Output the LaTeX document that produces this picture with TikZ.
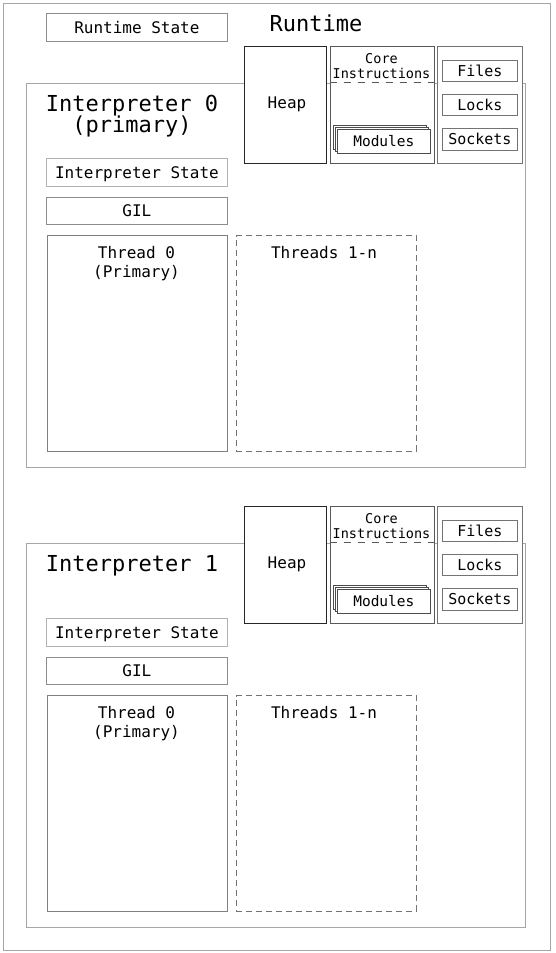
\documentclass[tikz,border=0pt]{standalone}
\usepackage{fontspec}
\setmainfont{DejaVu Sans Mono}
\begin{document}
\begin{tikzpicture}[x=1pt,y=-1pt,
  frame/.style={draw=black!35,line width=0.8pt,fill=white},
  rbox/.style={draw=black!75,line width=0.8pt,fill=white,anchor=north west,inner sep=0pt},
  sbox/.style={draw=black!45,line width=0.8pt,fill=white,anchor=north west,inner sep=0pt,
     font=\fontsize{16}{19}\selectfont,text height=11.7pt,text depth=0pt},
  resbox/.style={draw=black!55,line width=0.8pt,fill=white,anchor=north west,inner sep=0pt,
     minimum width=75pt,minimum height=21.5pt,
     font=\fontsize{15}{18}\selectfont,text height=11pt,text depth=0pt},
  modbox/.style={draw=black!70,line width=0.7pt,fill=white,anchor=north west,inner sep=0pt,
     minimum width=93pt,minimum height=23.5pt},
  dashbox/.style={draw=black!55,line width=0.8pt,dash pattern=on 6pt off 4pt,anchor=north west,inner sep=0pt},
  title/.style={font=\fontsize{22}{27}\selectfont,anchor=base},
  lbl/.style={font=\fontsize{16}{19}\selectfont,anchor=base},
  small/.style={font=\fontsize{13.5}{16}\selectfont,anchor=base}
]
\useasboundingbox (0,0) rectangle (556,953);
% outer frame
\node[draw=black!35,line width=0.8pt,anchor=north west,inner sep=0pt,minimum width=547pt,minimum height=947pt] (outer) at (3,3) {};
% runtime state and title
\node[sbox,draw=black!45,minimum width=181pt,minimum height=28pt] (rstate) at (46,13) {Runtime State};
\node[title] (rtitle) at (316,31) {Runtime};

\foreach \dy/\i in {0/0,460/1} {
  % interpreter box
  \node[frame,anchor=north west,inner sep=0pt,minimum width=499pt,minimum height=384pt] (interp\i) at (26,83+\dy) {};
  % runtime-owned boxes
  \node[rbox,draw=black!85,minimum width=82pt,minimum height=116.5pt] (heap\i) at (244,46+\dy) {};
  \node[lbl] (heaptxt\i) at (287,108.5+\dy) {Heap};
  \node[rbox,draw=black!65,minimum width=104pt,minimum height=116.5pt] (core\i) at (329.5,46+\dy) {};
  \node[small] (coretxt\i) at (381.5,63+\dy) {Core};
  \node[small] (instrtxt\i) at (381.5,78.5+\dy) {Instructions};
  \coordinate (cl\i) at (329.5,82.7+\dy);
  \coordinate (cr\i) at (433.5,82.7+\dy);
  \draw[draw=black!65,line width=0.8pt,dash pattern=on 7pt off 7pt] (cl\i) -- (cr\i);
  \node[modbox] (modA\i) at (333,125+\dy) {};
  \node[modbox] (modB\i) at (335,127+\dy) {};
  \node[modbox,font=\fontsize{14.5}{17}\selectfont,text height=10.6pt,text depth=0pt] (mod\i) at (337,129+\dy) {Modules};
  \node[rbox,draw=black!55,minimum width=84.5pt,minimum height=116.5pt] (res\i) at (437.3,46+\dy) {};
  \node[resbox] (files\i) at (442,59.5+\dy) {Files};
  \node[resbox] (locks\i) at (442,93.5+\dy) {Locks};
  \node[resbox] (sockets\i) at (442,128.3+\dy) {Sockets};
  % interpreter contents
  \node[sbox,draw=black!30,minimum width=181pt,minimum height=28pt] (istate\i) at (46,158+\dy) {Interpreter State};
  \node[sbox,draw=black!45,minimum width=181pt,minimum height=27pt] (gil\i) at (46,197+\dy) {GIL};
  \node[rbox,draw=black!50,minimum width=180.5pt,minimum height=215.5pt] (th0\i) at (46.5,235.3+\dy) {};
  \node[lbl] (th0a\i) at (136.5,258.3+\dy) {Thread 0};
  \node[lbl] (th0b\i) at (136.5,277.3+\dy) {(Primary)};
  \node[dashbox,minimum width=180pt,minimum height=215.5pt] (thn\i) at (235.7,235.3+\dy) {};
  \node[lbl] (thnt\i) at (324,258.3+\dy) {Threads 1-n};
}
\node[title] (ititle0) at (132,111) {Interpreter 0};
\node[title] (ititle0b) at (132,132.5) {(primary)};
\node[title] (ititle1) at (132,571) {Interpreter 1};
\end{tikzpicture}
\end{document}
